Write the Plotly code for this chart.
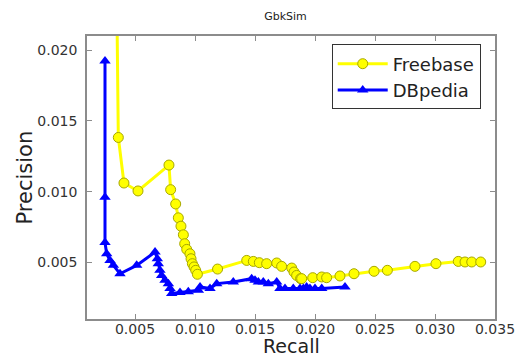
import plotly.graph_objects as go

freebase_recall = [0.0034, 0.00361, 0.00408, 0.00525, 0.00783, 0.00797, 0.00839, 0.00861, 0.00883,
                   0.00903, 0.00914, 0.00931, 0.00958, 0.00967, 0.00978, 0.00992, 0.01006, 0.0102,
                   0.01188, 0.01431, 0.01486, 0.01536, 0.01597, 0.01681, 0.01722, 0.01806, 0.01825,
                   0.01847, 0.0188, 0.01889, 0.01981, 0.02056, 0.02097, 0.02208, 0.02325, 0.02492,
                   0.02603, 0.02833, 0.03008, 0.03194, 0.0325, 0.03306, 0.03381]
freebase_precision = [0.030, 0.01383, 0.01061, 0.01005, 0.01188, 0.01014, 0.00913, 0.00815, 0.00756,
                      0.00695, 0.00632, 0.00592, 0.00561, 0.00526, 0.00491, 0.00468, 0.00444, 0.00416,
                      0.00453, 0.00514, 0.00507, 0.00498, 0.00491, 0.00496, 0.00472, 0.0046, 0.00432,
                      0.00408, 0.00385, 0.00385, 0.00392, 0.00397, 0.00392, 0.00404, 0.0042, 0.00437,
                      0.00444, 0.00472, 0.00491, 0.00507, 0.00503, 0.00503, 0.00503]

dbpedia_recall = [0.0025, 0.0025, 0.0025, 0.00264, 0.00292, 0.0032, 0.00375, 0.00514, 0.00667,
                  0.00686, 0.00694, 0.00708, 0.00722, 0.0075, 0.00778, 0.00792, 0.00806, 0.00875,
                  0.00944, 0.01028, 0.01042, 0.01125, 0.01181, 0.01319, 0.01472, 0.015, 0.01528,
                  0.01569, 0.01611, 0.01681, 0.01708, 0.0175, 0.01819, 0.01875, 0.01903, 0.0193,
                  0.01958, 0.02, 0.02056, 0.0225]
dbpedia_precision = [0.01923, 0.0096, 0.0064, 0.00561, 0.00514, 0.00479, 0.0042, 0.00479, 0.00573,
                     0.00526, 0.00491, 0.00444, 0.00408, 0.00373, 0.0035, 0.00315, 0.0028, 0.00287,
                     0.00292, 0.00303, 0.00327, 0.00315, 0.0035, 0.00362, 0.00385, 0.00373, 0.00362,
                     0.00362, 0.0035, 0.00362, 0.00315, 0.00315, 0.00315, 0.00315, 0.00315, 0.00327,
                     0.00315, 0.00315, 0.00315, 0.00327]

x_ticks = [0.005, 0.010, 0.015, 0.020, 0.025, 0.030, 0.035]
y_ticks = [0.005, 0.010, 0.015, 0.020]

FONT = "DejaVu Sans"
TEXT = "#222222"

fig = go.Figure()
fig.add_trace(go.Scatter(
    x=freebase_recall, y=freebase_precision, mode="lines+markers", name="Freebase",
    line=dict(color="#ffff00", width=3),
    marker=dict(symbol="circle", size=10, color="#ffff00", line=dict(color="#a8a800", width=1)),
))
fig.add_trace(go.Scatter(
    x=dbpedia_recall, y=dbpedia_precision, mode="lines+markers", name="DBpedia",
    line=dict(color="#0000ff", width=3),
    marker=dict(symbol="triangle-up", size=10, color="#0000ff", line=dict(color="#0000ff", width=0)),
))

axis_common = dict(
    showgrid=False, zeroline=False, showline=True, linecolor="#8c8c8c", linewidth=1.5,
    mirror="ticks", ticks="inside", ticklen=5, tickcolor="#8c8c8c", tickwidth=1,
    tickfont=dict(family=FONT, size=14, color="#333333"), automargin=False,
)

fig.update_layout(
    width=519, height=358,
    margin=dict(l=87, r=24, t=36, b=39),
    paper_bgcolor="white", plot_bgcolor="white",
    font=dict(family=FONT, color=TEXT),
    title=dict(text="GbkSim", x=0.55, xanchor="center", y=0.955, yanchor="middle",
               font=dict(family=FONT, size=11, color=TEXT)),
    xaxis=dict(range=[0.001, 0.035], tickvals=x_ticks, tickformat=".3f",
               ticklabelstandoff=-4, **axis_common),
    yaxis=dict(range=[0.001, 0.021], tickvals=y_ticks, tickformat=".3f",
               ticklabelstandoff=5, **axis_common),
    legend=dict(x=0.965, y=0.97, xanchor="right", yanchor="top",
                bordercolor="#333333", borderwidth=1, bgcolor="white",
                font=dict(family=FONT, size=18, color=TEXT),
                itemwidth=50),
    showlegend=True,
    annotations=[
        dict(text="Recall", xref="paper", yref="paper", x=0.5, y=-0.137,
             xanchor="center", yanchor="bottom", showarrow=False, borderpad=0,
             font=dict(family=FONT, size=19, color=TEXT)),
        dict(text="Precision", xref="paper", yref="paper", x=-0.152, y=0.5,
             xanchor="center", yanchor="middle", showarrow=False, textangle=-90,
             font=dict(family=FONT, size=21, color=TEXT)),
    ],
)

fig.write_html("out.html", config={"displayModeBar": False},
               post_script="document.body.style.margin='0';document.body.style.overflow='hidden';")
